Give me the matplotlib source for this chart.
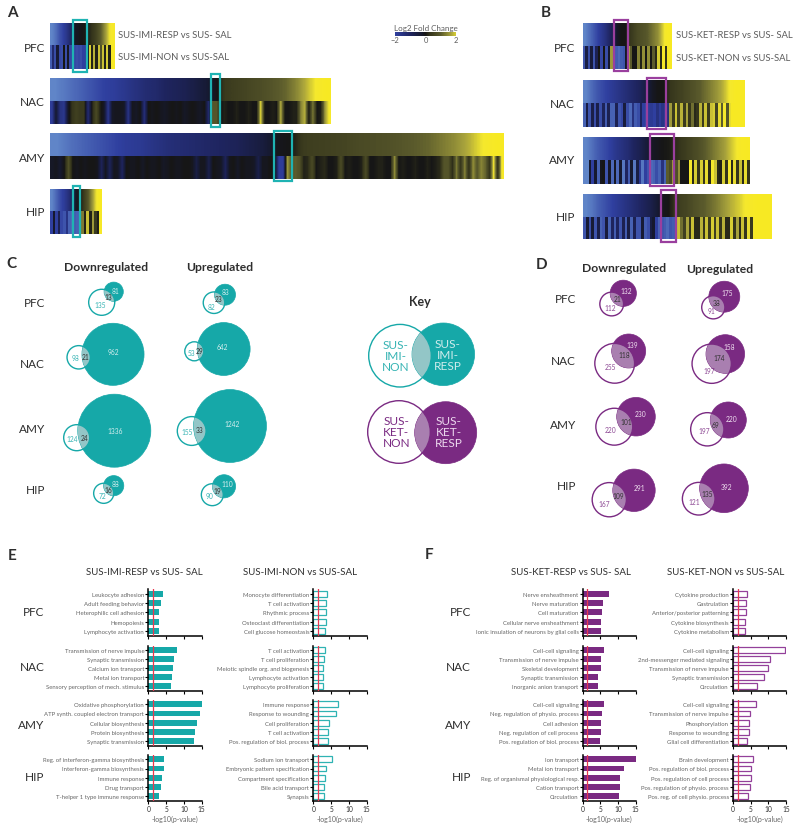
import numpy as np
import matplotlib
matplotlib.use('Agg')
import matplotlib.pyplot as plt
from matplotlib.colors import LinearSegmentedColormap, Normalize
from matplotlib.patches import Circle, Rectangle

plt.rcParams['font.family'] = ['Lato', 'DejaVu Sans']

W, H = 800, 828
TEAL = '#16a8a8'
TEAL_LIGHT = '#93c6c7'
PURPLE = '#7a2a82'
PURPLE_LIGHT = '#a97fb0'
RED = '#e8384f'
GREY = '#5c5c5c'
DARK = '#2e2e2e'

regions = ['PFC', 'NAC', 'AMY', 'HIP']

# heatmaps, log2 fold change read along each strip (top = responders, bottom = non-responders)
imi_pfc_top = [-3, -2.7, -2.3, -2, -1.6, -1.1, -0.2, -0.1, 0, 0.05, 0.2, 0.4, 0.7, 1.1, 1.6, 2.1, 2.3]
imi_pfc_bot = [-2.4, -1.2, -2.2, -0.4, -2.1, -2.2, 0, -2.2, -0.2, -2.1, -2.2, -2.1, -2.2, -2.1, -2.2, -2.0, -1.9,
               -0.2, 2.0, 0.1, 1.8, 0.1, 1.9, 0.8, 1.9, 0.1, 2.0, 0.1, 2.3, 2.4]
imi_nac_top = [-3, -2.8, -2.6, -2.4, -2.2, -2, -1.9, -1.7, -1.5, -1.3, -1.2, -1, -0.9, -0.8, -0.6, -0.4, -0.1,
               0.4, 0.5, 0.6, 0.7, 0.8, 0.95, 1.1, 1.4, 1.8, 2.2, 2.4]
imi_nac_bot = [-1.9, -0.3, -1.5, -1.7, -0.2, 0.3, 0.5, 0.4, 0.4, -1.3, 0.1, 0.7, 0.1, -0.2, -1.7, -0.2, -0.1, -0.1,
               -0.2, -1.6, -0.1, -0.2, 0, -1.4, 0, -0.1, 0, -0.1, -0.2, -0.1, 0, -0.1, 0, -0.2, -0.1, 0, -0.1, -0.2, 0,
               -1.2, 0.9, 0.9, 0, 0.1, 0, 0, 0.1, 0, 0, 0.1, 0, 0, 2.1, 0, 0, 0.1, 0, 1.8, 0, 0, 0.1, 0.1, 1.4,
               1.8, 0, 1.3, 0, 0.1, 1.6, 2.2]
imi_amy_top = [-3, -2.7, -2.5, -2.3, -2.1, -1.9, -1.8, -1.6, -1.4, -1.3, -1.2, -1.1, -1, -0.9, -0.7, -0.5, -0.1, 0,
               0.45, 0.5, 0.55, 0.6, 0.7, 0.75, 0.8, 0.9, 1, 1.1, 1.3, 1.5, 1.8, 2.2, 2.4]
imi_amy_bot = [-0.2, -0.1, -0.3, 0, 0.8, 0, -0.1, 0, -0.1, 0, 0, -0.1, -0.9, -0.1, -0.9, -0.1, -0.2, -1.0, 0, -0.1,
               -0.1, 0, -0.2, 0, -0.1, -0.1, 0, -0.2, -0.1, 0, -0.1, -0.1, 0, 0, -0.1, -0.6, -0.1, -0.1, -0.7, 0, -0.1,
               -0.2, -0.9, -0.1, 0, -0.2, 0, -0.1, -0.1, -0.2, -0.7, -0.1, -0.1, 0, -0.1, -1.9, -1.9, 1.6, 0.9, 1.0, 0.8,
               0.1, 0.2, 0.7, 0, 0.1, 0.2, 0, 0, 0.1, 0.7, 0, 0.1, 0, 0, 0.1, 0.7, 0, 0, 0.1, 0.1, 0, 0, 1.5, 0, 0.1,
               0, 0, 0.1, 0, 0, 0.1, 0, 0.1, 0.2, 0.9, 0.9, 0.2, 1.3, 0.3, 1.4, 0.2, 1.5, 0.9, 1.4, 1.1, 0.3, 2.2, 0.2, 2.3]
imi_hip_top = [-3, -2.6, -2.2, -1.9, -1.5, -1, -0.2, 0, 0.4, 0.9, 1.5, 2.1, 2.4]
imi_hip_bot = [-2.0, -0.3, -2.0, -0.8, -2.1, -2.3, -1.6, -2.5, -2.6, -2.4, -2.5, -2.4, 1.3, 0.1, 1.9, 0.1, 1.6, 0.4, 0.1, 2.3]

ket_pfc_top = [-3, -2.7, -2.4, -2.1, -1.8, -1.5, -1.1, -0.7, -0.2, 0, 0, 0.3, 0.5, 0.7, 0.8, 0.9, 1.1, 1.3, 1.5, 1.9, 2.3, 2.4]
ket_pfc_bot = [-2.3, -0.6, -2.2, -0.5, -2.3, -0.8, 0, -2.1, 0, -2.2, -0.3, 1.6, -0.2, -2.4, -2.6, -2.4, -2.3, -0.2, 1.7,
               1.0, 0, 0, 1.4, 0.1, 1.5, 0, 1.5, 0, 1.0, 0.2, 2.0, 0.2, 2.3, 0.3, 2.4, 2.4]
ket_nac_top = [-3, -2.6, -2.3, -2.1, -1.9, -1.7, -1.5, -1.3, -1.1, -0.9, -0.6, -0.2, 0, 0, 0.3, 0.45, 0.55, 0.7, 0.85,
               1, 1.2, 1.4, 1.6, 1.85, 2.2, 2.4, 2.4]
ket_nac_bot = [-2.5, -0.6, -2.3, -0.7, -2.2, -0.7, -2.2, -0.9, -2.4, -0.8, -2.5, -2.5, -0.8, -2.3, -2.1, -0.5, -2.2, -2.6,
               -1.5, -2.4, -2.2, -1.0, -2.0, -2.1, -1.9, -1.8, -2.0, -1.5, -1.9, -1.6, -1.8, -1.4, 1.6, 0.4, 1.9, 0.5, 1.8,
               0.4, 1.7, 0.3, 1.2, 0.2, 0.3, 1.8, 0.4, 1.9, 0.4, 1.9, 2.0, 0.6, 2.1, 1.0, 2.2, 0.9, 2.1, 2.4, 2.4, 2.4, 2.4, 2.4]
ket_amy_top = [-3, -2.7, -2.4, -2.2, -2, -1.7, -1.5, -1.3, -1, -0.8, -0.5, -0.2, -0.1, 0, 0.05, 0.2, 0.35, 0.5, 0.65, 0.8,
               1, 1.2, 1.4, 1.6, 1.85, 2.1, 2.35, 2.4]
ket_amy_bot = [-3, -3, -0.3, -2.0, -0.3, -2.5, -0.1, 0, -2.3, -0.2, -2.6, -0.2, -2.6, -0.3, -2.8, -1.0, -2.4, -0.3, -2.8,
               -0.6, -1.8, -2.8, -2.0, -2.3, -2.6, -2.5, -2.2, -2.5, -1.5, -2.5, 1.0, 0.7, 1.6, 0.8, 1.5, 0, 0, 0, 2.2, 0.2,
               2.0, 0.3, 2.0, 0.3, 2.1, 0.2, 2.2, 1.9, 0.2, 0.1, 2.0, 0.3, 2.2, 0.2, 2.1, 0.3, 1.9, 0.2, 2.1, 0.3]
ket_hip_top = [-3, -2.8, -2.5, -2.3, -2.1, -1.9, -1.7, -1.5, -1.3, -1.1, -0.9, -0.7, -0.4, -0.1, 0, 0.3, 0.5, 0.6, 0.75, 0.9,
               1, 1.15, 1.3, 1.5, 1.7, 1.85, 2, 2.2, 2.3, 2.4, 2.4, 2.4]
ket_hip_bot = [-2.3, -0.4, -2.2, -0.4, -2.3, -0.7, -2.5, -2.3, -0.5, -2.5, -1.0, -2.4, -1.0, -2.3, -0.8, -2.4, -0.6, -2.5,
               -0.8, -2.3, -2.3, -0.4, -2.4, -2.2, -0.6, -0.3, -2.0, -2.5, -2.3, -2.4, -2.6, -2.3, -2.4, -2.2, 1.9, 1.2,
               0.5, 1.7, 0.3, 1.9, 0.2, 0.2, 1.8, 0.3, 1.9, 0.4, 2.0, 0.5, 1.9, 0.3, 1.8, 0.2, 0.2, 2.0, 0.3, 1.7, 0.2, 1.9,
               0.3, 2.1, 0.4, 2.2, 2.4, 2.4, 2.4, 2.4, 2.4, 2.4]

# venn counts per region
imi_down_resp = [81, 962, 1336, 88]
imi_down_both = [13, 21, 24, 16]
imi_down_non = [135, 98, 124, 72]
imi_up_resp = [83, 642, 1242, 110]
imi_up_both = [23, 29, 33, 19]
imi_up_non = [82, 53, 155, 90]
ket_down_resp = [132, 139, 230, 291]
ket_down_both = [21, 118, 101, 109]
ket_down_non = [112, 255, 220, 167]
ket_up_resp = [175, 158, 220, 392]
ket_up_both = [38, 174, 69, 135]
ket_up_non = [91, 197, 197, 121]

# GO terms and -log10(p)
e_resp_terms = [['Leukocyte adhesion', 'Adult feeding behavior', 'Heterophilic cell adhesion', 'Hemopoiesis', 'Lymphocyte activation'],
                ['Transmission of nerve impulse', 'Synaptic transmission', 'Calcium ion transport', 'Metal ion transport', 'Sensory perception of mech. stimulus'],
                ['Oxidative phosphorylation', 'ATP synth. coupled electron transport', 'Cellular biosynthesis', 'Protein biosynthesis', 'Synaptic transmission'],
                ['Reg. of interferon-gamma biosynthesis', 'Interferon-gamma biosynthesis', 'Immune response', 'Drug transport', 'T-helper 1 type immune response']]
e_resp_vals = [[4.2, 3.7, 3.0, 3.0, 2.9], [8.1, 7.1, 6.9, 6.6, 6.4], [15.3, 14.4, 13.7, 13.1, 12.7], [4.4, 4.3, 3.8, 3.5, 3.1]]
e_non_terms = [['Monocyte differentiation', 'T cell activation', 'Rhythmic process', 'Osteoclast differentiation', 'Cell glucose homeostasis'],
               ['T cell activation', 'T cell proliferation', 'Meiotic spindle org. and biogenesis', 'Lymphocyte activation', 'Lymphocyte proliferation'],
               ['Immune response', 'Response to wounding', 'Cell proliferation', 'T cell activation', 'Pos. regulation of biol. process'],
               ['Sodium ion transport', 'Embryonic pattern specification', 'Compartment specification', 'Bile acid transport', 'Synapsis']]
e_non_vals = [[3.9, 3.7, 3.6, 3.5, 3.4], [3.4, 3.1, 2.8, 2.8, 2.7], [6.8, 6.5, 4.5, 4.2, 4.2], [5.3, 3.5, 3.4, 3.1, 3.1]]
f_resp_terms = [['Nerve ensheathment', 'Nerve maturation', 'Cell maturation', 'Cellular nerve ensheathment', 'Ionic insulation of neurons by glial cells'],
                ['Cell-cell signaling', 'Transmission of nerve impulse', 'Skeletal development', 'Synaptic transmission', 'Inorganic anion transport'],
                ['Cell-cell signaling', 'Neg. regulation of physio. process', 'Cell adhesion', 'Neg. regulation of cell process', 'Pos. regulation of biol. process'],
                ['Ion transport', 'Metal ion transport', 'Reg. of organismal physiological resp.', 'Cation transport', 'Circulation']]
f_resp_vals = [[7.5, 5.7, 5.5, 5.3, 5.3], [6.1, 5.2, 5.2, 4.4, 4.4], [6.1, 5.4, 5.3, 5.1, 4.9], [15, 11.6, 10.6, 10.6, 10.3]]
f_non_terms = [['Cytokine production', 'Gastrulation', 'Anterior/posterior patterning', 'Cytokine biosynthesis', 'Cytokine metabolism'],
               ['Cell-cell signaling', '2nd-messenger mediated signaling', 'Transmission of nerve impulse', 'Synaptic transmission', 'Circulation'],
               ['Cell-cell signaling', 'Transmission of nerve impulse', 'Phosphorylation', 'Response to wounding', 'Glial cell differentiation'],
               ['Brain development', 'Pos. regulation of biol. process', 'Pos. regulation of cell process', 'Pos. regulation of physio. process', 'Pos. reg. of cell physio. process']]
f_non_vals = [[3.9, 3.8, 3.6, 3.5, 3.5], [14.6, 10.4, 9.8, 8.8, 6.7], [6.6, 4.7, 4.6, 4.4, 4.1], [5.8, 5.2, 5.0, 4.7, 4.3]]
sig_line = 1.3

cmap = LinearSegmentedColormap.from_list('fc', [
    (0.0, '#6085c8'), (0.18, '#3040a0'), (0.36, '#1f2560'), (0.49, '#161a30'), (0.545, '#161616'),
    (0.60, '#35351c'), (0.727, '#5a5a2c'), (0.855, '#a8a33c'), (0.945, '#f5e82e'), (1.0, '#f9ea20')])
norm = Normalize(-3, 2.5)

fig = plt.figure(figsize=(8, 8.28), dpi=100)
ax = fig.add_axes([0, 0, 1, 1])
ax.axis('off')


def heat(top, bot, x0, x1, y0, y1, y2, bot_interp='nearest'):
    ax.imshow(np.array(top)[None, :], cmap=cmap, norm=norm, extent=(x0, x1, y1, y0), aspect='auto', interpolation='bilinear')
    ax.imshow(np.array(bot)[None, :], cmap=cmap, norm=norm, extent=(x0, x1, y2, y1), aspect='auto', interpolation=bot_interp)


heat(imi_pfc_top, imi_pfc_bot, 50, 115, 24, 46, 70)
heat(imi_nac_top, imi_nac_bot, 50, 331, 79, 102, 125, 'bilinear')
heat(imi_amy_top, imi_amy_bot, 50, 504, 134, 157, 180, 'bilinear')
heat(imi_hip_top, imi_hip_bot, 50, 102, 190, 212, 235)
heat(ket_pfc_top, ket_pfc_bot, 583, 672, 24, 47, 70)
heat(ket_nac_top, ket_nac_bot, 583, 745, 81, 104, 128)
heat(ket_amy_top, ket_amy_bot, 583, 750, 138, 161, 185)
heat(ket_hip_top, ket_hip_bot, 583, 772, 195, 218, 240)

for x0, x1, y0, y1 in [(73, 87, 21, 73), (211, 220, 75, 128), (274, 292, 132, 182), (73, 80, 187, 238)]:
    ax.add_patch(Rectangle((x0, y0), x1 - x0, y1 - y0, fc='none', ec='#1fb3b3', lw=1.6, zorder=4))
for x0, x1, y0, y1 in [(614, 628, 21, 72), (647, 666, 79, 130), (650, 674, 135, 187), (661, 676, 191, 243)]:
    ax.add_patch(Rectangle((x0, y0), x1 - x0, y1 - y0, fc='none', ec='#9a3f9e', lw=1.6, zorder=4))

# colour scale
cax = fig.add_axes([395 / W, 1 - 36.5 / H, 61 / W, 3.5 / H])
cax.imshow(np.linspace(-2, 2, 200)[None, :], cmap=cmap, norm=norm, extent=(-2, 2, 0, 1), aspect='auto')
cax.set_yticks([])
cax.set_xticks([-2, 0, 2])
cax.tick_params(length=0, labelsize=5.4, labelcolor=GREY, pad=0.5)
for s in cax.spines.values():
    s.set_visible(False)
ax.text(425.5, 28, 'Log2 Fold Change', fontsize=5.8, color=GREY, ha='center', va='center')


def venn(rc, nc, r_resp, r_non, color, light):
    resp = Circle(rc, r_resp, fc=color, ec=color, lw=0.5, zorder=2)
    ax.add_patch(resp)
    lens = Circle(nc, r_non, fc=light, ec='none', zorder=3)
    ax.add_patch(lens)
    lens.set_clip_path(resp)
    ax.add_patch(Circle(nc, r_non, fc='none', ec=color, lw=1.0, zorder=3))


# (resp centre, non centre, resp label, overlap label, non label)
c_down_pos = [((113.7, 292.7), (101.7, 303.3), (115.7, 291.3), (108.3, 297.7), (99.7, 305.7)),
              ((113, 355.3), (78.7, 358.3), (113, 352.3), (85.7, 358), (75.3, 358.3)),
              ((114.3, 431.7), (76.7, 438.7), (115.3, 431.3), (85, 438.3), (71.7, 439.3)),
              ((113.7, 486.7), (103.7, 494.3), (115.7, 485), (108.3, 491), (102.3, 496.7))]
c_up_pos = [((225, 295.7), (214, 303.7), (226, 293), (218.3, 299.3), (211.7, 307.7)),
            ((223.7, 350), (194.3, 352.3), (222.7, 347.3), (200, 351.7), (191, 353.7)),
            ((230, 427), (191.7, 432), (232, 424.3), (199.7, 430.3), (186.7, 432.3)),
            ((224, 487.3), (212.3, 495.7), (227, 484.7), (217.3, 491.7), (209.7, 497))]
d_down_pos = [((623.3, 294.3), (611.7, 305), (626, 291.7), (617.3, 300), (610.7, 309)),
              ((628.7, 352), (614.7, 364.3), (632.3, 346), (624, 355.7), (610.3, 367.7)),
              ((636, 417.7), (614.3, 427.7), (640.3, 415), (626.7, 422.7), (610.3, 430.7)),
              ((634, 491.3), (609.3, 500.7), (639.3, 489), (618, 496.3), (604.3, 504.3))]
d_up_pos = [((724.3, 297.7), (713.3, 308.3), (727.3, 294), (717, 303.3), (711.3, 312)),
            ((725.3, 355), (711.7, 364.7), (728.7, 347.3), (719, 358.7), (709, 372)),
            ((728.3, 421), (707.3, 430.3), (731.7, 419.7), (715.7, 425.3), (704, 432)),
            ((724, 489.3), (698.7, 499.7), (727, 487.7), (707, 494.7), (694, 502.7))]


def venn_group(pos, resp, both, non, k_resp, k_non, color, light, txt_light):
    for p, a, b, c in zip(pos, resp, both, non):
        venn(p[0], p[1], k_resp * np.sqrt(a + b), k_non * np.sqrt(c + b), color, light)
        ax.text(*p[2], str(a), fontsize=4.8, color=txt_light, ha='center', va='center', zorder=5)
        ax.text(*p[3], str(b), fontsize=4.8, color='#333333', ha='center', va='center', zorder=5)
        ax.text(*p[4], str(c), fontsize=4.8, color=color, alpha=0.85, ha='center', va='center', zorder=5)


venn_group(c_down_pos, imi_down_resp, imi_down_both, imi_down_non, 0.99, 1.07, TEAL, TEAL_LIGHT, '#d5eeee')
venn_group(c_up_pos, imi_up_resp, imi_up_both, imi_up_non, 1.02, 1.05, TEAL, TEAL_LIGHT, '#d5eeee')
venn_group(d_down_pos, ket_down_resp, ket_down_both, ket_down_non, 1.06, 1.03, PURPLE, PURPLE_LIGHT, '#f0e0f0')
venn_group(d_up_pos, ket_up_resp, ket_up_both, ket_up_non, 1.06, 1.02, PURPLE, PURPLE_LIGHT, '#f0e0f0')

# key
venn((443.3, 355.3), (400, 356.7), 31.3, 31.3, TEAL, TEAL_LIGHT)
venn((445.7, 433.7), (399, 433), 31, 31.3, PURPLE, PURPLE_LIGHT)
key_style = dict(fontsize=8.6, ha='center', va='center', linespacing=1.0, zorder=5)
ax.text(395.7, 356.7, 'SUS-\nIMI-\nNON', color='#35b3b3', **key_style)
ax.text(447.7, 355.3, 'SUS-\nIMI-\nRESP', color='#cfecec', **key_style)
ax.text(396.3, 433, 'SUS-\nKET-\nNON', color=PURPLE, **key_style)
ax.text(448.7, 433, 'SUS-\nKET-\nRESP', color='#ecd8ee', **key_style)
ax.text(420, 301.7, 'Key', fontsize=9, fontweight='bold', color=DARK, ha='center', va='center')

for label, x, y in [('Downregulated', 106, 267.7), ('Upregulated', 220, 267.7), ('Downregulated', 624, 269), ('Upregulated', 719.3, 270)]:
    ax.text(x, y, label, fontsize=8.7, fontweight='bold', color=DARK, ha='center', va='center')

for label, x, y in [('A', 12.5, 13), ('B', 545.7, 13), ('C', 11, 264), ('D', 542, 265), ('E', 12.5, 556), ('F', 429, 555)]:
    ax.text(x, y, label, fontsize=11, fontweight='bold', color=DARK, ha='center', va='center')

row_labels = [(45, [48, 103, 158, 213]), (575, [48, 104, 161, 218]), (45, [303.7, 365, 430, 491]),
              (576, [299.7, 361.3, 425.3, 487]), (44.7, [613, 668, 726, 778]), (471, [613, 668, 726, 778])]
for x, ys in row_labels:
    for name, y in zip(regions, ys):
        ax.text(x, y, name, fontsize=8.5, color=DARK, ha='right', va='center')

for text, x, y in [('SUS-IMI-RESP vs SUS- SAL', 118, 36), ('SUS-IMI-NON vs SUS-SAL', 118, 58),
                   ('SUS-KET-RESP vs SUS- SAL', 676, 36), ('SUS-KET-NON vs SUS-SAL', 676, 58.5)]:
    ax.text(x, y, text, fontsize=6.8, color=GREY, ha='left', va='center')

for text, x in [('SUS-IMI-RESP vs SUS- SAL', 144), ('SUS-IMI-NON vs SUS-SAL', 300),
                ('SUS-KET-RESP vs SUS- SAL', 570.7), ('SUS-KET-NON vs SUS-SAL', 725.7)]:
    ax.text(x, 572.7, text, fontsize=7, color=DARK, ha='center', va='center')

ax.set_xlim(0, W)
ax.set_ylim(H, 0)

row_tops = [(590, 636.7), (646.7, 691.7), (700.7, 746.7), (755.7, 801.7)]


def bar_column(x0, x1, terms, vals, color, filled):
    for i, (y0, y1) in enumerate(row_tops):
        bx = fig.add_axes([x0 / W, 1 - y1 / H, (x1 - x0) / W, (y1 - y0) / H])
        ypos = np.arange(len(terms[i]))
        if filled:
            bx.barh(ypos, vals[i], height=0.62, color=color)
        else:
            bx.barh(ypos, vals[i], height=0.62, facecolor='white', edgecolor=color, lw=0.9)
        bx.axvline(sig_line, color=RED, lw=0.9, zorder=5)
        bx.set_xlim(0, 15)
        bx.set_ylim(4.5, -0.5)
        bx.set_yticks(ypos)
        bx.set_yticklabels(terms[i], fontsize=4.3, color='#666666')
        bx.set_xticks([0, 5, 10, 15])
        bx.patch.set_alpha(0)
        bx.tick_params(axis='y', length=2, width=0.8, pad=1)
        bx.tick_params(axis='x', length=2, width=0.8, pad=1.2, labelsize=4.8, labelcolor=DARK)
        for s in ['top', 'right']:
            bx.spines[s].set_visible(False)
        for s in ['left', 'bottom']:
            bx.spines[s].set_linewidth(1.1)
        if i < 3:
            bx.set_xticklabels([])
        else:
            bx.set_xlabel('-log10(p-value)', fontsize=5, color='#666666', labelpad=2)


bar_column(148.3, 201.7, e_resp_terms, e_resp_vals, TEAL, True)
bar_column(313.3, 366.7, e_non_terms, e_non_vals, '#2fb3b3', False)
bar_column(582.7, 635.7, f_resp_terms, f_resp_vals, PURPLE, True)
bar_column(733, 786, f_non_terms, f_non_vals, '#93409a', False)

fig.savefig('out.png', dpi=100)
